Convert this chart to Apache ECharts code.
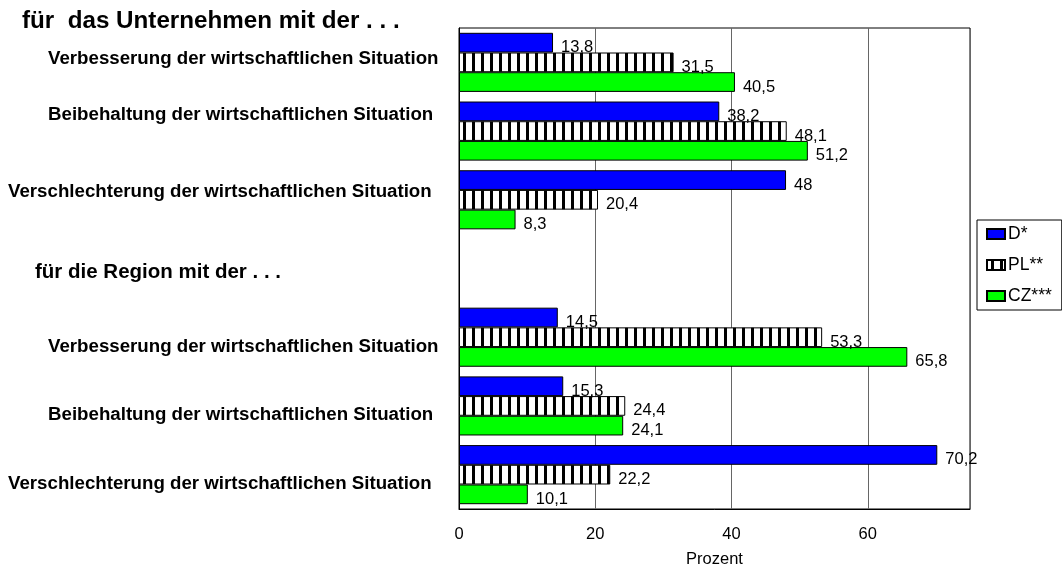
<!DOCTYPE html>
<html>
<head>
<meta charset="utf-8">
<script src="https://cdn.jsdelivr.net/npm/echarts@6/dist/echarts.min.js"></script>
<style>
  html, body { margin: 0; padding: 0; background: #fff; }
  #main { width: 1062px; height: 569px; }
</style>
</head>
<body>
<div id="main"></div>
<script>
// Daten
var categories = [
  'Verbesserung der wirtschaftlichen Situation',
  'Beibehaltung der wirtschaftlichen Situation',
  'Verschlechterung der wirtschaftlichen Situation',
  'für die Region mit der . . .',
  'Verbesserung der wirtschaftlichen Situation',
  'Beibehaltung der wirtschaftlichen Situation',
  'Verschlechterung der wirtschaftlichen Situation'
];
var seriesNames = ['D*', 'PL**', 'CZ***'];
var valuesD  = [13.8, 38.2, 48,   null, 14.5, 15.3, 70.2];
var valuesPL = [31.5, 48.1, 20.4, null, 53.3, 24.4, 22.2];
var valuesCZ = [40.5, 51.2, 8.3,  null, 65.8, 24.1, 10.1];

// Beschriftung der Kategorien: Einzug und vertikale Verschiebung
var labelIndent = [40, 40, 0, 27, 40, 40, 0];
var labelShift  = [-4, -16, -8, 4, 10, 9, 9];

var FONT = '"Liberation Sans", Arial, sans-serif';

// gestreiftes Muster fuer PL
var stripe = document.createElement('canvas');
stripe.width = 9;
stripe.height = 10;
var ctx = stripe.getContext('2d');
ctx.fillStyle = '#fff';
ctx.fillRect(0, 0, 9, 10);
ctx.fillStyle = '#000';
ctx.fillRect(4, 0, 3, 10);

var rich = {};
categories.forEach(function (c, i) {
  var d = labelShift[i];
  rich['c' + i] = {
    fontFamily: FONT,
    fontWeight: 'bold',
    fontSize: i === 3 ? 20.5 : 18.7,
    color: '#000',
    padding: [d > 0 ? 2 * d : 0, 0, d < 0 ? -2 * d : 0, labelIndent[i]]
  };
});

function fmt(p) {
  return String(p.value).replace('.', ',');
}

function barSeries(name, data, color) {
  return {
    name: name,
    type: 'bar',
    data: data,
    barGap: '0%',
    barCategoryGap: '14%',
    itemStyle: { color: color, borderColor: '#000', borderWidth: 1 },
    label: {
      show: true,
      position: 'right',
      distance: 8,
      offset: [0, 5],
      formatter: fmt,
      color: '#000',
      fontFamily: FONT,
      fontSize: 16.5
    }
  };
}

var myChart = echarts.init(document.getElementById('main'));
var option = {
  backgroundColor: '#fff',
  animation: false,
  title: {
    text: 'für  das Unternehmen mit der . . .',
    left: 22,
    top: 9,
    padding: 0,
    textStyle: { fontFamily: FONT, fontWeight: 'bold', fontSize: 24.2, color: '#000' }
  },
  legend: {
    orient: 'vertical',
    left: 977,
    top: 220,
    itemWidth: 18,
    itemHeight: 10,
    itemGap: 13,
    padding: [5, 10, 5, 9],
    borderColor: '#000',
    borderWidth: 1,
    icon: 'rect',
    data: seriesNames,
    textStyle: { fontFamily: FONT, fontSize: 17.5, color: '#000', padding: [0, 0, 0, -2] }
  },
  grid: {
    left: 459,
    right: 92,
    top: 28,
    bottom: 60,
    outerBoundsMode: 'none',
    show: true,
    borderColor: '#000',
    borderWidth: 1,
    backgroundColor: '#fff'
  },
  xAxis: {
    type: 'value',
    min: 0,
    max: 75,
    interval: 20,
    name: 'Prozent',
    nameLocation: 'middle',
    nameGap: 42,
    nameTextStyle: { fontFamily: FONT, fontSize: 16.5, color: '#000' },
    axisLine: { show: true, lineStyle: { color: '#000' } },
    axisTick: { show: false },
    axisLabel: {
      showMaxLabel: false,
      margin: 17,
      fontFamily: FONT,
      fontSize: 16.5,
      color: '#000'
    },
    splitLine: { show: true, lineStyle: { color: '#666', width: 1 } }
  },
  yAxis: {
    type: 'category',
    inverse: true,
    data: categories,
    axisLine: { show: true, lineStyle: { color: '#000' } },
    axisTick: { show: false },
    axisLabel: {
      align: 'left',
      margin: 451,
      interval: 0,
      formatter: function (v, i) { return '{c' + i + '|' + v + '}'; },
      rich: rich
    }
  },
  series: [
    barSeries(seriesNames[0], valuesD, '#0000ff'),
    barSeries(seriesNames[1], valuesPL, { image: stripe, repeat: 'repeat' }),
    barSeries(seriesNames[2], valuesCZ, '#00ff00')
  ]
};
myChart.setOption(option);
</script>
</body>
</html>
